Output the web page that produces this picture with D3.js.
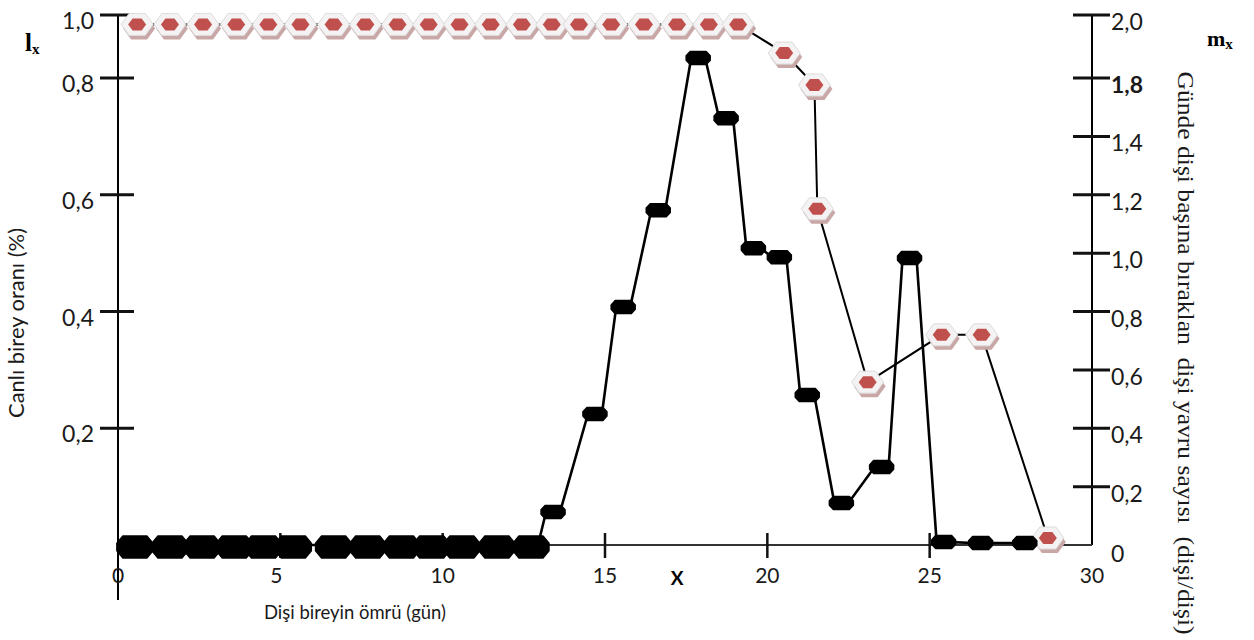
<!DOCTYPE html>
<html>
<head>
<meta charset="utf-8">
<script src="https://cdn.jsdelivr.net/npm/d3@7"></script>
<style>
  body { margin: 0; background: #fff; }
  svg { display: block; }
</style>
</head>
<body>
<div id="chart"></div>
<script>
// x positions (days) and values
const lxDays = [0.59, 1.60, 2.62, 3.64, 4.63, 5.62, 6.64, 7.62, 8.61, 9.57, 10.52, 11.48, 12.44, 13.36,
    14.20, 15.19, 16.20, 17.22, 18.20, 19.10, 20.52, 21.45, 21.54, 23.09, 25.37, 26.60, 28.64];
const lxValues = [0.97, 0.97, 0.97, 0.97, 0.97, 0.97, 0.97, 0.97, 0.97, 0.97, 0.97, 0.97, 0.97, 0.97,
    0.97, 0.97, 0.97, 0.97, 0.97, 0.97, 0.879, 0.788, 0.576, 0.279, 0.360, 0.360, 0.012];

const mxDays = [0.52, 1.60, 2.59, 3.58, 4.48, 5.40, 6.64, 7.69, 8.73, 9.66, 10.59, 11.67, 12.72,
    13.40, 14.69, 15.56, 16.64, 17.87, 18.73, 19.57, 20.37, 21.23, 22.28, 23.52, 24.38, 25.43, 26.57, 27.93];
const mxValues = [0, 0, 0, 0, 0, 0, 0, 0, 0, 0, 0, 0, 0,
    0.113, 0.449, 0.815, 1.147, 1.727, 1.462, 1.017, 0.986, 0.514, 0.144, 0.267, 0.983, 0.010, 0.007, 0.007];

const xTicks = [0, 5, 10, 15, 20, 25, 30];
const leftTicks = [0.2, 0.4, 0.6, 0.8, 1.0];
const leftTickLabels = ["0,2", "0,4", "0,6", "0,8", "1,0"];
const rightTicks = [0, 0.2, 0.4, 0.6, 0.8, 1.0, 1.2, 1.4, 1.6, 2.0];
const rightTickLabels = ["0", "0,2", "0,4", "0,6", "0,8", "1,0", "1,2", "1,4", "1,8", "2,0"];

const width = 1254;
const height = 640;

const svg = d3.select("#chart")
    .append("svg")
    .attr("width", width)
    .attr("height", height);

// scales (the original axes are not evenly spaced at the top)
const x = d3.scaleLinear().domain([0, 30]).range([118, 1092]);
const yL = d3.scaleLinear().domain([0, 0.8, 1.0]).range([545, 78, 15]);
const yR = d3.scaleLinear().domain([0, 1.6, 2.0]).range([545, 78, 15]);

const sans = "Lato, 'Open Sans', sans-serif";
const serif = "'Liberation Serif', 'DejaVu Serif', serif";

// axes lines
svg.append("line")
    .attr("x1", x(0)).attr("x2", x(0))
    .attr("y1", yL(1.0)).attr("y2", 600)
    .attr("stroke", "#000").attr("stroke-width", 2);
svg.append("line")
    .attr("x1", x(30)).attr("x2", x(30))
    .attr("y1", yR(2.0)).attr("y2", yR(0))
    .attr("stroke", "#000").attr("stroke-width", 2);
svg.append("line")
    .attr("x1", x(0)).attr("x2", x(30))
    .attr("y1", yL(0)).attr("y2", yL(0))
    .attr("stroke", "#333").attr("stroke-width", 1.8);

// left ticks
const lt = svg.append("g").selectAll("g")
    .data(leftTicks)
    .enter()
    .append("g");
lt.append("line")
    .attr("x1", x(0) - 18).attr("x2", x(0) + 16)
    .attr("y1", (d) => yL(d)).attr("y2", (d) => yL(d))
    .attr("stroke", "#111").attr("stroke-width", 3);
lt.append("text")
    .attr("x", 94)
    .attr("y", (d) => yL(d) + 5)
    .attr("text-anchor", "end")
    .attr("dominant-baseline", "central")
    .attr("font-family", sans)
    .attr("font-size", 23)
    .attr("fill", "#1a1a1a")
    .text((d, i) => leftTickLabels[i]);

// right ticks
const rt = svg.append("g").selectAll("g")
    .data(rightTicks.filter((d) => d > 0))
    .enter()
    .append("g");
rt.append("line")
    .attr("x1", x(30) - 19).attr("x2", x(30) + 18)
    .attr("y1", (d) => yR(d)).attr("y2", (d) => yR(d))
    .attr("stroke", "#111").attr("stroke-width", 3);
svg.append("g").selectAll("text")
    .data(rightTicks)
    .enter()
    .append("text")
    .attr("x", 1111)
    .attr("y", (d) => yR(d) + (d === 0 ? 8 : 6))
    .attr("dominant-baseline", "central")
    .attr("font-family", sans)
    .attr("font-size", 23)
    .attr("font-weight", (d, i) => rightTickLabels[i] === "1,8" ? 700 : 400)
    .attr("fill", "#1a1a1a")
    .text((d, i) => rightTickLabels[i]);

// x ticks
svg.append("g").selectAll("line")
    .data(xTicks.filter((d) => d > 0 && d < 30))
    .enter()
    .append("line")
    .attr("x1", (d) => x(d)).attr("x2", (d) => x(d))
    .attr("y1", yL(0) - 12).attr("y2", yL(0) + 13)
    .attr("stroke", "#111").attr("stroke-width", 2.5);
svg.append("g").selectAll("text")
    .data(xTicks)
    .enter()
    .append("text")
    .attr("x", (d) => x(d) + (d === 5 ? -4 : 0))
    .attr("y", 574)
    .attr("text-anchor", "middle")
    .attr("dominant-baseline", "central")
    .attr("font-family", sans)
    .attr("font-size", 21)
    .attr("fill", "#1a1a1a")
    .text((d) => d);

// hexagon-ish marker path
const hex = (w, h) => {
    const pts = [[-w / 2, -h / 6], [-w / 3, -h / 2], [w / 3, -h / 2], [w / 2, -h / 6],
        [w / 2, h / 6], [w / 3, h / 2], [-w / 3, h / 2], [-w / 2, h / 6]];
    return "M" + pts.map((p) => p.join(",")).join("L") + "Z";
};
const hex6 = (w, h) => {
    const pts = [[-w / 2, 0], [-w / 4, -h / 2], [w / 4, -h / 2], [w / 2, 0], [w / 4, h / 2], [-w / 4, h / 2]];
    return "M" + pts.map((p) => p.join(",")).join("L") + "Z";
};

// lx series
const lxData = lxDays.map((d, i) => ({ day: d, value: lxValues[i] }));
const lxLine = d3.line().x((d) => x(d.day)).y((d) => yL(d.value));
svg.append("path")
    .datum(lxData)
    .attr("d", lxLine)
    .attr("fill", "none")
    .attr("stroke", "#000")
    .attr("stroke-width", 2);

const lxMarks = svg.append("g").selectAll("g")
    .data(lxData)
    .enter()
    .append("g")
    .attr("transform", (d) => `translate(${x(d.day)},${yL(d.value)})`);
lxMarks.append("path")
    .attr("d", hex6(32, 22))
    .attr("transform", "translate(2,4)")
    .attr("fill", "#c9a7a7");
lxMarks.append("path")
    .attr("d", hex6(32, 22))
    .attr("fill", "#f4f2f2")
    .attr("stroke", "#dcdcdc")
    .attr("stroke-width", 1);
lxMarks.append("path")
    .attr("d", hex6(18, 12))
    .attr("fill", "#c0504d");

// mx series: line joins marker ends, the way the original is drawn
const mxData = mxDays.map((d, i) => ({ day: d, value: mxValues[i], big: i < 13 }));
const half = 7;
const mxPts = mxData.flatMap((d) => [[x(d.day) - half, yR(d.value)], [x(d.day) + half, yR(d.value)]]);
svg.append("path")
    .datum(mxPts)
    .attr("d", d3.line())
    .attr("fill", "none")
    .attr("stroke", "#000")
    .attr("stroke-width", 2.6);
svg.append("g").selectAll("path")
    .data(mxData)
    .enter()
    .append("path")
    .attr("transform", (d) => `translate(${x(d.day)},${yR(d.value) + (d.big ? 2 : 0)})`)
    .attr("d", (d) => d.big ? hex(36, 22) : hex(24, 13))
    .attr("fill", "#000")
    .attr("stroke", "#000")
    .attr("stroke-linejoin", "round")
    .attr("stroke-width", 1.5);

// titles
svg.append("text")
    .attr("transform", "translate(24,323) rotate(-90)")
    .attr("text-anchor", "middle")
    .attr("font-family", sans)
    .attr("font-size", 21)
    .attr("textLength", 190)
    .attr("lengthAdjust", "spacingAndGlyphs")
    .attr("fill", "#1a1a1a")
    .text("Canlı birey oranı (%)");

svg.append("text")
    .attr("x", 355)
    .attr("y", 619)
    .attr("text-anchor", "middle")
    .attr("font-family", sans)
    .attr("font-size", 20)
    .attr("textLength", 182)
    .attr("lengthAdjust", "spacingAndGlyphs")
    .attr("fill", "#1a1a1a")
    .text("Dişi bireyin ömrü (gün)");

svg.append("text")
    .attr("x", 677)
    .attr("y", 585)
    .attr("text-anchor", "middle")
    .attr("font-family", sans)
    .attr("font-size", 19)
    .attr("font-weight", 700)
    .attr("fill", "#000")
    .text("X");

svg.append("text")
    .attr("transform", "translate(1178,353) rotate(90)")
    .attr("text-anchor", "middle")
    .attr("font-family", serif)
    .attr("font-size", 23)
    .attr("textLength", 563)
    .attr("lengthAdjust", "spacingAndGlyphs")
    .attr("fill", "#1a1a1a")
    .style("white-space", "pre")
    .text("Günde dişi başına bıraklan  dişi yavru sayısı  (dişi/dişi)");

const lx = svg.append("text")
    .attr("x", 25)
    .attr("y", 51)
    .attr("font-family", serif)
    .attr("font-weight", 700)
    .attr("font-size", 25)
    .attr("fill", "#000");
lx.append("tspan").text("l");
lx.append("tspan").attr("font-size", 15).attr("dy", 3).text("x");

const mx = svg.append("text")
    .attr("x", 1207)
    .attr("y", 46)
    .attr("font-family", serif)
    .attr("font-weight", 700)
    .attr("font-size", 22)
    .attr("fill", "#000");
mx.append("tspan").text("m");
mx.append("tspan").attr("font-size", 15).attr("dy", 3).text("x");
</script>
</body>
</html>
